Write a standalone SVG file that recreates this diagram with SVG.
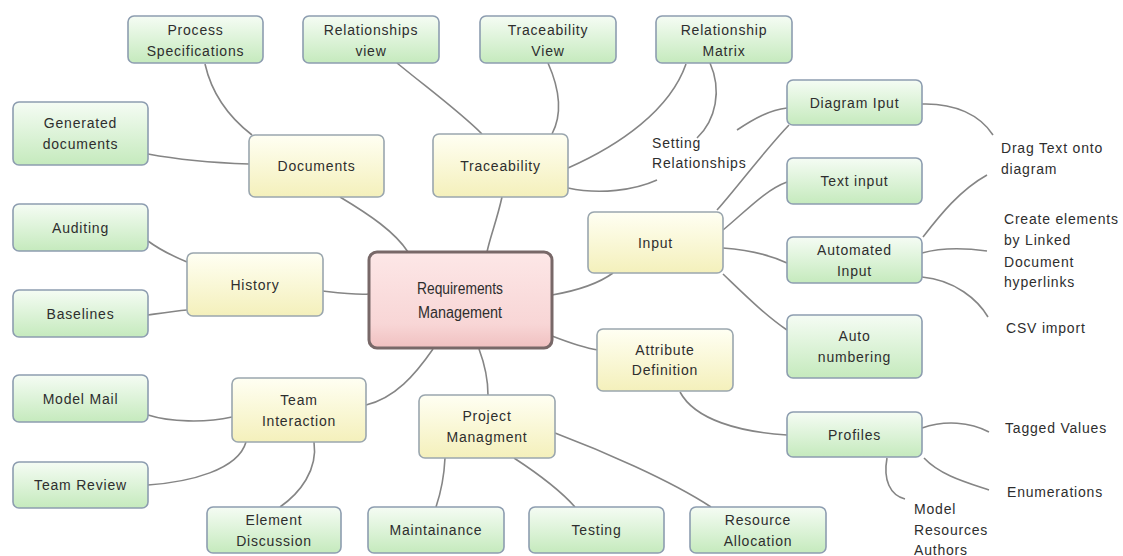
<svg xmlns="http://www.w3.org/2000/svg" width="1123" height="556" viewBox="0 0 1123 556">
  <defs>
    <linearGradient id="gGreen" x1="0" y1="0" x2="0" y2="1">
      <stop offset="0" stop-color="#f5fcf4"/>
      <stop offset="1" stop-color="#c5eabd"/>
    </linearGradient>
    <linearGradient id="gYellow" x1="0" y1="0" x2="0" y2="1">
      <stop offset="0" stop-color="#fffff3"/>
      <stop offset="1" stop-color="#f4f0bb"/>
    </linearGradient>
    <linearGradient id="gPink" x1="0" y1="0" x2="0" y2="1">
      <stop offset="0" stop-color="#fde7e7"/>
      <stop offset="0.75" stop-color="#f8d6d6"/>
      <stop offset="1" stop-color="#f0c0c0"/>
    </linearGradient>
    <style>
      .leaf rect { fill: url(#gGreen); stroke: #8d9db0; stroke-width: 1.6; }
      .branch rect { fill: url(#gYellow); stroke: #9aa6ae; stroke-width: 1.6; }
      .root rect { fill: url(#gPink); stroke: #786868; stroke-width: 3; }
      text { font-family: "Liberation Sans", Arial, sans-serif; font-size: 14px; fill: #2e2e2e; letter-spacing: 0.8px; }
      .c { text-anchor: middle; }
      .root text { font-size: 16px; letter-spacing: 0; }
      #links path { fill: none; stroke: #858585; stroke-width: 1.6; }
    </style>
  </defs>
  <rect width="1123" height="556" fill="#ffffff"/>

  <!-- connectors -->
  <g id="links">
    <path d="M205,64 C212,95 230,118 252,135"/>
    <path d="M148,154 C180,160 220,163 249,164"/>
    <path d="M340,197 C370,215 395,232 408,252"/>
    <path d="M397,63 C430,90 460,112 482,134"/>
    <path d="M548,63 C560,90 562,115 552,134"/>
    <path d="M686,64 C670,110 620,145 568,168"/>
    <path d="M710,63 C722,90 716,120 697,138"/>
    <path d="M568,188 C600,195 635,190 657,180"/>
    <path d="M737,130 C755,118 770,110 787,108"/>
    <path d="M717,210 C735,190 765,150 789,125"/>
    <path d="M723,230 C745,212 765,190 787,182"/>
    <path d="M723,248 C750,250 770,255 787,263"/>
    <path d="M723,274 C745,295 765,315 787,330"/>
    <path d="M552,295 C575,291 598,284 613,273"/>
    <path d="M502,197 C497,220 490,237 487,252"/>
    <path d="M552,336 C570,343 585,348 598,350"/>
    <path d="M680,392 C695,420 740,432 787,435"/>
    <path d="M922,104 C955,103 980,115 993,135"/>
    <path d="M923,237 C940,215 960,190 987,175"/>
    <path d="M922,253 C940,248 965,248 987,251"/>
    <path d="M922,277 C955,280 978,300 988,317"/>
    <path d="M922,428 C945,420 970,422 989,432"/>
    <path d="M924,458 C940,475 965,482 989,490"/>
    <path d="M887,458 C883,480 890,495 905,499"/>
    <path d="M479,349 C485,365 488,380 488,395"/>
    <path d="M433,349 C415,375 395,398 366,405"/>
    <path d="M323,291 C340,293 355,295 369,294"/>
    <path d="M148,241 C160,250 175,257 187,262"/>
    <path d="M148,315 C162,313 175,311 187,310"/>
    <path d="M148,415 C170,422 205,423 232,417"/>
    <path d="M246,442 C238,470 190,482 148,485"/>
    <path d="M314,442 C318,470 300,493 280,507"/>
    <path d="M445,458 C444,480 440,495 436,507"/>
    <path d="M514,458 C540,475 560,490 575,507"/>
    <path d="M555,433 C600,450 670,480 711,507"/>
  </g>

  <!-- central topic -->
  <g id="requirements-management" class="root">
    <rect x="369" y="252" width="183" height="96" rx="8"/>
    <text class="c" x="460" y="294" textLength="86" lengthAdjust="spacingAndGlyphs">Requirements</text>
    <text class="c" x="460" y="318" textLength="84" lengthAdjust="spacingAndGlyphs">Management</text>
  </g>

  <!-- main branches -->
  <g id="documents" class="branch">
    <rect x="249" y="135" width="135" height="62" rx="6"/>
    <text class="c" x="316.5" y="171">Documents</text>
  </g>
  <g id="traceability" class="branch">
    <rect x="433" y="134" width="135" height="63" rx="6"/>
    <text class="c" x="500.5" y="170.5">Traceability</text>
  </g>
  <g id="history" class="branch">
    <rect x="187" y="253" width="136" height="63" rx="6"/>
    <text class="c" x="255" y="289.5">History</text>
  </g>
  <g id="input" class="branch">
    <rect x="588" y="212" width="135" height="61" rx="6"/>
    <text class="c" x="655.5" y="247.5">Input</text>
  </g>
  <g id="attribute-definition" class="branch">
    <rect x="597" y="329" width="136" height="62" rx="6"/>
    <text class="c" x="665" y="355">Attribute</text>
    <text class="c" x="665" y="375">Definition</text>
  </g>
  <g id="team-interaction" class="branch">
    <rect x="232" y="378" width="134" height="64" rx="6"/>
    <text class="c" x="299" y="405">Team</text>
    <text class="c" x="299" y="426">Interaction</text>
  </g>
  <g id="project-managment" class="branch">
    <rect x="419" y="395" width="136" height="63" rx="6"/>
    <text class="c" x="487" y="421">Project</text>
    <text class="c" x="487" y="442">Managment</text>
  </g>

  <!-- sub topics -->
  <g id="process-specifications" class="leaf">
    <rect x="128" y="16" width="135" height="47" rx="6"/>
    <text class="c" x="195.5" y="35">Process</text>
    <text class="c" x="195.5" y="56">Specifications</text>
  </g>
  <g id="relationships-view" class="leaf">
    <rect x="303" y="16" width="136" height="47" rx="6"/>
    <text class="c" x="371" y="35">Relationships</text>
    <text class="c" x="371" y="56">view</text>
  </g>
  <g id="traceability-view" class="leaf">
    <rect x="480" y="16" width="136" height="47" rx="6"/>
    <text class="c" x="548" y="35">Traceability</text>
    <text class="c" x="548" y="56">View</text>
  </g>
  <g id="relationship-matrix" class="leaf">
    <rect x="656" y="16" width="136" height="47" rx="6"/>
    <text class="c" x="724" y="35">Relationship</text>
    <text class="c" x="724" y="56">Matrix</text>
  </g>
  <g id="generated-documents" class="leaf">
    <rect x="13" y="102" width="135" height="63" rx="6"/>
    <text class="c" x="80.5" y="128">Generated</text>
    <text class="c" x="80.5" y="149">documents</text>
  </g>
  <g id="auditing" class="leaf">
    <rect x="13" y="204" width="135" height="47" rx="6"/>
    <text class="c" x="80.5" y="233">Auditing</text>
  </g>
  <g id="baselines" class="leaf">
    <rect x="13" y="290" width="135" height="47" rx="6"/>
    <text class="c" x="80.5" y="319">Baselines</text>
  </g>
  <g id="model-mail" class="leaf">
    <rect x="13" y="375" width="135" height="47" rx="6"/>
    <text class="c" x="80.5" y="404">Model Mail</text>
  </g>
  <g id="team-review" class="leaf">
    <rect x="13" y="462" width="135" height="46" rx="6"/>
    <text class="c" x="80.5" y="490">Team Review</text>
  </g>
  <g id="element-discussion" class="leaf">
    <rect x="207" y="507" width="134" height="46" rx="6"/>
    <text class="c" x="274" y="525">Element</text>
    <text class="c" x="274" y="546">Discussion</text>
  </g>
  <g id="maintainance" class="leaf">
    <rect x="368" y="507" width="136" height="46" rx="6"/>
    <text class="c" x="436" y="535">Maintainance</text>
  </g>
  <g id="testing" class="leaf">
    <rect x="529" y="507" width="135" height="46" rx="6"/>
    <text class="c" x="596.5" y="535">Testing</text>
  </g>
  <g id="resource-allocation" class="leaf">
    <rect x="690" y="507" width="136" height="46" rx="6"/>
    <text class="c" x="758" y="525">Resource</text>
    <text class="c" x="758" y="546">Allocation</text>
  </g>
  <g id="diagram-iput" class="leaf">
    <rect x="787" y="80" width="135" height="45" rx="6"/>
    <text class="c" x="854.5" y="107.5">Diagram Iput</text>
  </g>
  <g id="text-input" class="leaf">
    <rect x="787" y="158" width="135" height="46" rx="6"/>
    <text class="c" x="854.5" y="186">Text input</text>
  </g>
  <g id="automated-input" class="leaf">
    <rect x="787" y="237" width="135" height="46" rx="6"/>
    <text class="c" x="854.5" y="255">Automated</text>
    <text class="c" x="854.5" y="276">Input</text>
  </g>
  <g id="auto-numbering" class="leaf">
    <rect x="787" y="315" width="135" height="63" rx="6"/>
    <text class="c" x="854.5" y="341">Auto</text>
    <text class="c" x="854.5" y="362">numbering</text>
  </g>
  <g id="profiles" class="leaf">
    <rect x="787" y="412" width="135" height="45" rx="6"/>
    <text class="c" x="854.5" y="439.5">Profiles</text>
  </g>

  <!-- free-standing labels -->
  <g id="setting-relationships">
    <text x="652" y="148">Setting</text>
    <text x="652" y="168">Relationships</text>
  </g>
  <g id="drag-text">
    <text x="1001" y="153">Drag Text onto</text>
    <text x="1001" y="174">diagram</text>
  </g>
  <g id="create-elements">
    <text x="1004" y="224">Create elements</text>
    <text x="1004" y="245">by Linked</text>
    <text x="1004" y="267">Document</text>
    <text x="1004" y="287">hyperlinks</text>
  </g>
  <g id="csv-import">
    <text x="1006" y="333">CSV import</text>
  </g>
  <g id="tagged-values">
    <text x="1005" y="433">Tagged Values</text>
  </g>
  <g id="enumerations">
    <text x="1007" y="497">Enumerations</text>
  </g>
  <g id="model-resources-authors">
    <text x="914" y="514">Model</text>
    <text x="914" y="535">Resources</text>
    <text x="914" y="555">Authors</text>
  </g>
</svg>
